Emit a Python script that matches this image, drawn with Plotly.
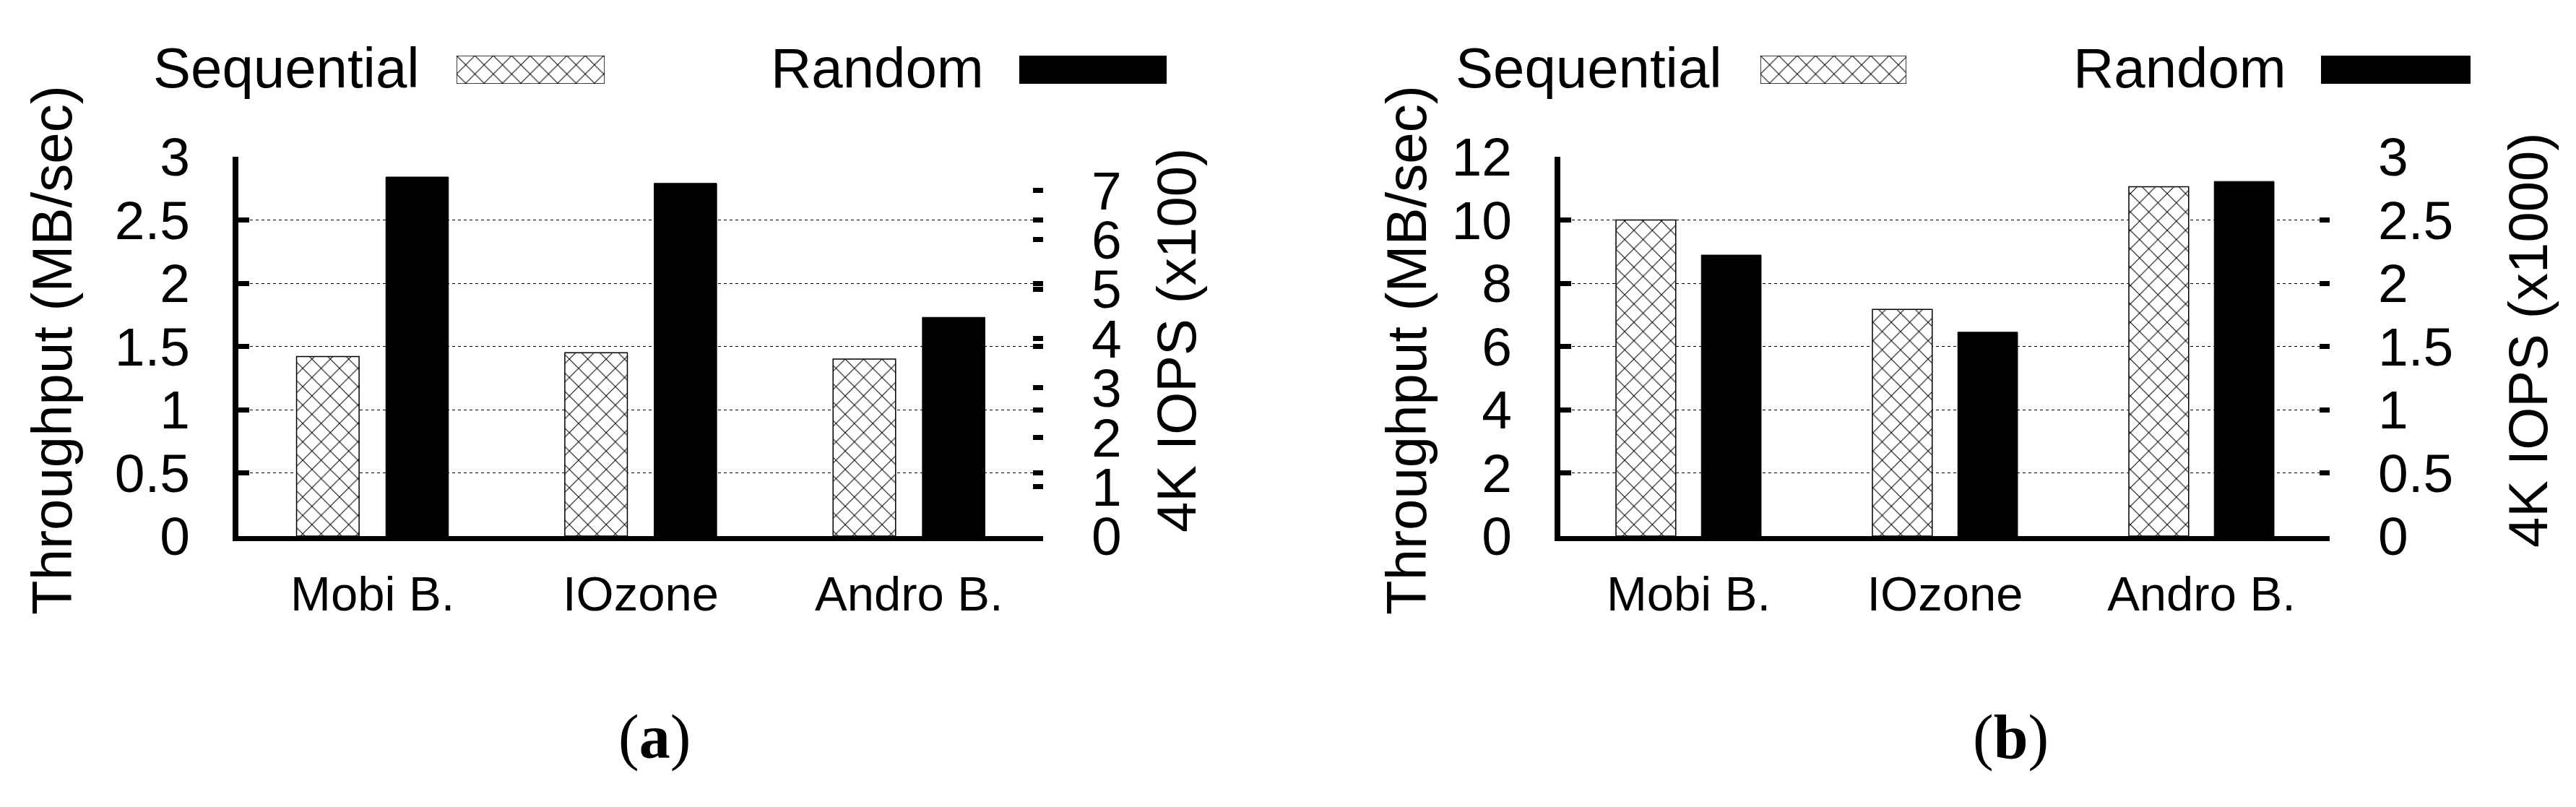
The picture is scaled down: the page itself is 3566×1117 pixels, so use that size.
import plotly.graph_objects as go

W, H = 3566, 1117
OFF = 8  # default <body> margin of the written page

# ---------------- data ----------------
categories = ["Mobi B.", "IOzone", "Andro B."]
series_names = ["Sequential", "Random"]

seq_a = [1.42, 1.45, 1.40]          # MB/sec, panel (a)
rand_a = [2.84, 2.79, 1.73]
seq_b = [10.0, 7.17, 11.05]         # MB/sec, panel (b)
rand_b = [8.89, 6.45, 11.22]

left_range_a = [0, 3]
left_dtick_a = 0.5
right_range_a = [0, 7.68]           # 4K IOPS (x100)
right_dtick_a = 1

left_range_b = [0, 12]
left_dtick_b = 2
right_range_b = [0, 3]              # 4K IOPS (x1000)
right_dtick_b = 0.5

left_title = "Throughput (MB/sec)"
right_title_a = "4K IOPS (x100)"
right_title_b = "4K IOPS (x1000)"
panel_labels = ["(<b>a</b>)", "(<b>b</b>)"]

# ---------------- helpers ----------------
def px(x):
    return (x - OFF) / W


def py(y):
    return 1 - (y - OFF) / H


SANS = "Liberation Sans, Arial, Helvetica, sans-serif"
SERIF = "Liberation Serif, Times New Roman, serif"

seq_marker = dict(color="white", line=dict(color="black", width=1.5),
                  pattern=dict(shape="x", size=18, solidity=0.11, fgcolor="black",
                               bgcolor="white", fillmode="replace"))
rand_marker = dict(color="black", line=dict(color="black", width=1))

fig = go.Figure()

# ---------------- bars ----------------
fig.add_trace(go.Bar(x=categories, y=seq_a, name=series_names[0], marker=seq_marker,
                     xaxis="x", yaxis="y", showlegend=False))
fig.add_trace(go.Bar(x=categories, y=rand_a, name=series_names[1], marker=rand_marker,
                     xaxis="x", yaxis="y", showlegend=False))
fig.add_trace(go.Bar(x=categories, y=seq_b, name=series_names[0], marker=seq_marker,
                     xaxis="x2", yaxis="y4", showlegend=False))
fig.add_trace(go.Bar(x=categories, y=rand_b, name=series_names[1], marker=rand_marker,
                     xaxis="x2", yaxis="y4", showlegend=False))

# invisible traces so the right-hand / mirror axes get drawn
for ya, xa, rng in [("y2", "x", right_range_a), ("y3", "x", left_range_a),
                    ("y5", "x2", right_range_b), ("y6", "x2", left_range_b)]:
    fig.add_trace(go.Scatter(x=[categories[0]], y=[rng[0]], xaxis=xa, yaxis=ya,
                             mode="markers", marker=dict(opacity=0), showlegend=False,
                             hoverinfo="skip"))

# ---------------- legend swatches (each on its own tiny hidden axes) ----------------
legend_boxes = [
    ("x3", "y7", 632, 837, 77, 116, seq_marker),
    ("x4", "y8", 1411, 1615, 77, 116, rand_marker),
    ("x5", "y9", 2437, 2639, 77, 116, seq_marker),
    ("x6", "y10", 3213, 3420, 77, 116, rand_marker),
]
for xa, ya, x0, x1, y0, y1, mk in legend_boxes:
    fig.add_trace(go.Bar(x=[0], y=[1], width=[1], marker=mk, xaxis=xa, yaxis=ya,
                         showlegend=False, hoverinfo="skip"))

# ---------------- axes ----------------
tickfont = dict(family=SANS, size=75, color="black")
catfont = dict(family=SANS, size=67, color="black")


def xaxis_cfg(d0, d1, anchor):
    return dict(domain=[px(d0), px(d1)], anchor=anchor, range=[-0.5, 2.5],
                type="category", categoryorder="array", categoryarray=categories,
                showline=True, linewidth=7, linecolor="black", ticks="",
                showgrid=False, zeroline=False, tickfont=catfont,
                ticklabelstandoff=16, fixedrange=True, automargin=False)


def yleft_cfg(rng, dt, anchor):
    return dict(domain=[py(742), py(217)], anchor=anchor, range=rng, dtick=dt,
                showline=True, linewidth=8, linecolor="black",
                ticks="inside", ticklen=15, tickwidth=7, tickcolor="black",
                showgrid=True, gridcolor="black", gridwidth=1, griddash="4px,4px",
                zeroline=False, tickfont=tickfont, ticklabelstandoff=44,
                fixedrange=True, automargin=False)


def yright_cfg(rng, dt, anchor, overlay, labels=True):
    return dict(overlaying=overlay, anchor=anchor, side="right", range=rng, dtick=dt,
                showline=False, ticks="inside", ticklen=14, tickwidth=7,
                tickcolor="black", showgrid=False, zeroline=False,
                showticklabels=labels, tickfont=tickfont, ticklabelstandoff=66,
                fixedrange=True, automargin=False)


hidden = dict(visible=False, fixedrange=True, automargin=False)

layout = dict(
    template="none",
    width=W, height=H, autosize=False,
    margin=dict(l=0, r=0, t=0, b=0, pad=0, autoexpand=False),
    paper_bgcolor="white", plot_bgcolor="rgba(0,0,0,0)",
    barmode="group", bargap=0.334, bargroupgap=0.30,
    showlegend=False,
    xaxis=xaxis_cfg(330, 1444, "y"),
    yaxis=yleft_cfg(left_range_a, left_dtick_a, "x"),
    yaxis2=yright_cfg(right_range_a, right_dtick_a, "x", "y"),
    yaxis3=yright_cfg(left_range_a, left_dtick_a, "x", "y", labels=False),
    xaxis2=xaxis_cfg(2160, 3225, "y4"),
    yaxis4=yleft_cfg(left_range_b, left_dtick_b, "x2"),
    yaxis5=yright_cfg(right_range_b, right_dtick_b, "x2", "y4"),
    yaxis6=yright_cfg(left_range_b, left_dtick_b, "x2", "y4", labels=False),
)

for xa, ya, x0, x1, y0, y1, mk in legend_boxes:
    layout["xaxis" + xa[1:]] = dict(hidden, domain=[px(x0), px(x1)], anchor=ya, range=[-0.5, 0.5])
    layout["yaxis" + ya[1:]] = dict(hidden, domain=[py(y1), py(y0)], anchor=xa, range=[0, 1])

fig.update_layout(**layout)

# ---------------- text ----------------
ann = []
legend_text = [(series_names[0], 396), (series_names[1], 1214),
               (series_names[0], 2199), (series_names[1], 3017)]
for t, cx in legend_text:
    ann.append(dict(text=t, x=px(cx), y=py(94), xref="paper", yref="paper",
                    xanchor="center", yanchor="middle", showarrow=False,
                    font=dict(family=SANS, size=78, color="black")))

titles = [(left_title, 72, 485, 78), (right_title_a, 1628, 471, 76),
          (left_title, 1947, 485, 78), (right_title_b, 3499, 471, 76)]
for t, cx, cy, fs in titles:
    ann.append(dict(text=t, x=px(cx), y=py(cy), xref="paper", yref="paper",
                    xanchor="center", yanchor="middle", textangle=-90,
                    showarrow=False, font=dict(family=SANS, size=fs, color="black")))

for t, cx in zip(panel_labels, [906, 2783]):
    ann.append(dict(text=t, x=px(cx), y=py(1020), xref="paper", yref="paper",
                    xanchor="center", yanchor="middle", showarrow=False,
                    font=dict(family=SERIF, size=86, color="black")))

fig.update_layout(annotations=ann)

fig.write_html("out.html")
